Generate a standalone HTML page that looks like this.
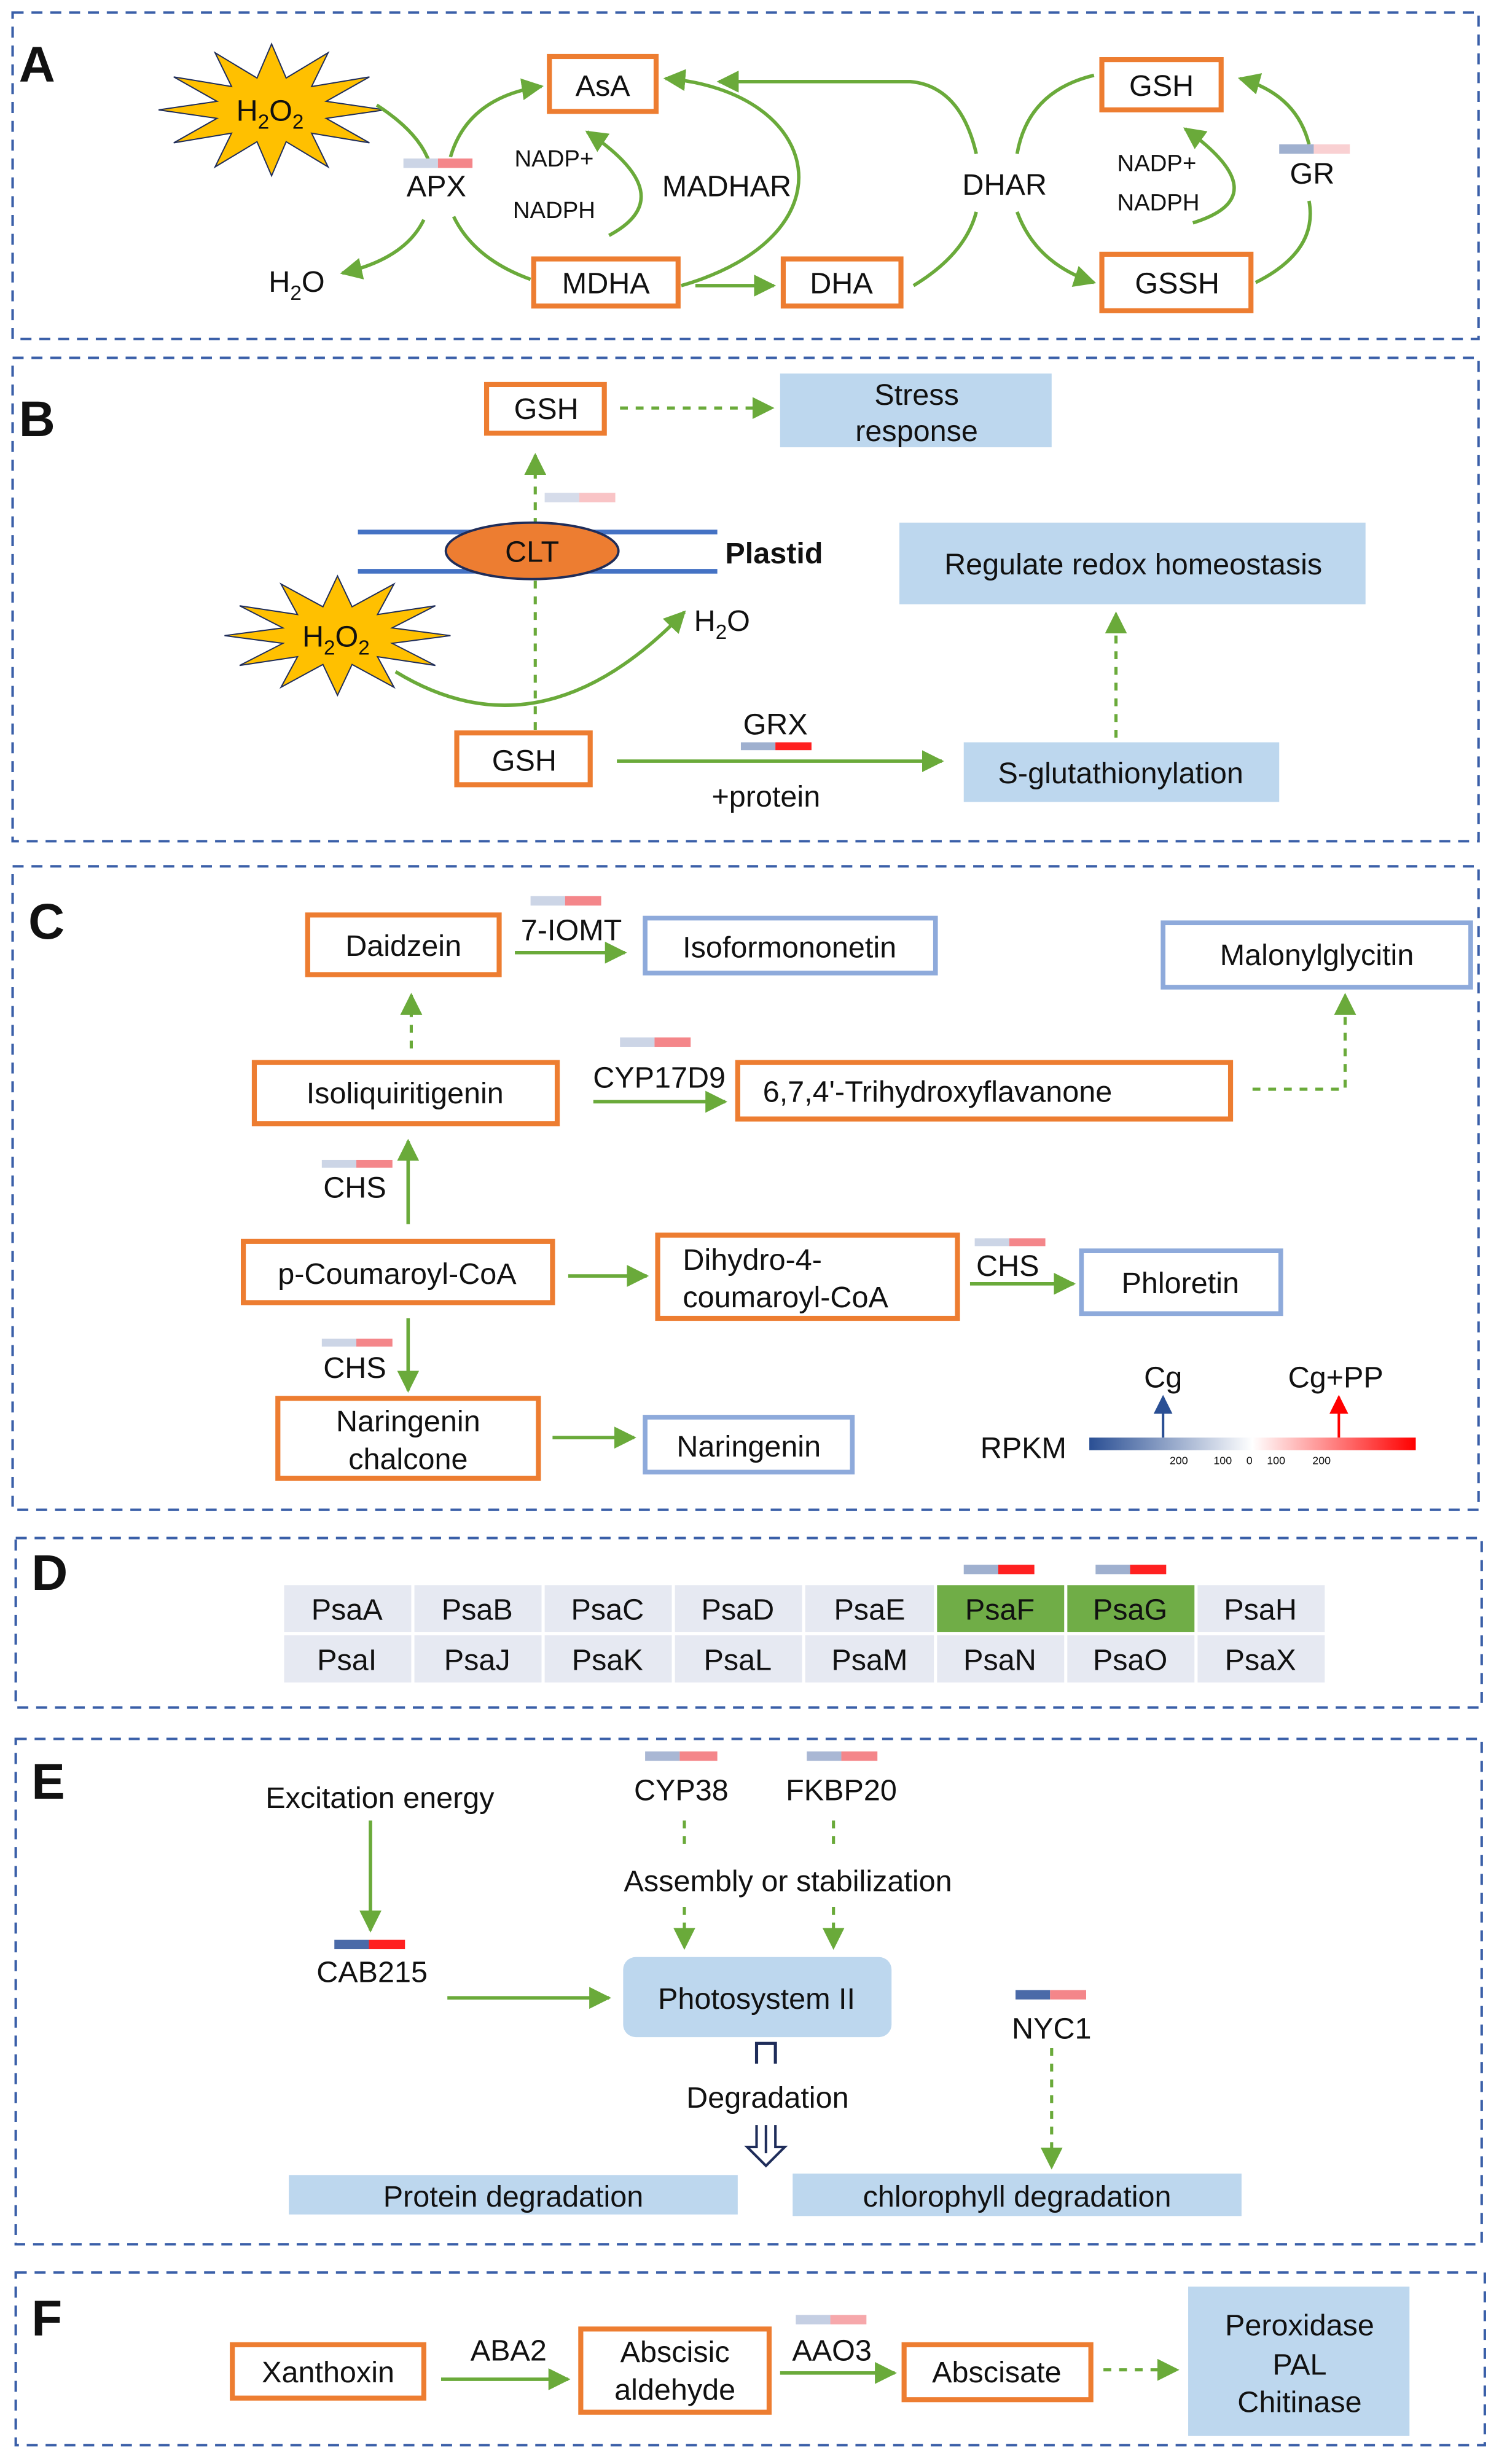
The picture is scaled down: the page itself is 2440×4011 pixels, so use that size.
<!DOCTYPE html>
<html><head><meta charset="utf-8"><style>
html,body{margin:0;padding:0;background:#fff;}
svg{display:block;}
text{font-family:"Liberation Sans",sans-serif;fill:#111;}
</style></head><body>
<svg width="2440" height="4011" viewBox="0 0 955 1570" xmlns="http://www.w3.org/2000/svg">
<defs>
<marker id="ag" markerUnits="userSpaceOnUse" markerWidth="14" markerHeight="14" viewBox="0 0 10 10" refX="9" refY="5" orient="auto"><path d="M0,0 L10,5 L0,10 Z" fill="#6aaa3a"/></marker>
<marker id="ab" markerUnits="userSpaceOnUse" markerWidth="12" markerHeight="14" viewBox="0 0 10 10" refX="9" refY="5" orient="auto"><path d="M0,0 L10,5 L0,10 Z" fill="#2a4f94"/></marker>
<marker id="ar" markerUnits="userSpaceOnUse" markerWidth="12" markerHeight="14" viewBox="0 0 10 10" refX="9" refY="5" orient="auto"><path d="M0,0 L10,5 L0,10 Z" fill="#ff0000"/></marker>
<polygon id="star" points="1,0 .483,.129 .866,.5 .354,.354 .5,.866 .129,.483 0,1 -.129,.483 -.5,.866 -.354,.354 -.866,.5 -.483,.129 -1,0 -.483,-.129 -.866,-.5 -.354,-.354 -.5,-.866 -.129,-.483 0,-1 .129,-.483 .5,-.866 .354,-.354 .866,-.5 .483,-.129" fill="#ffc000" stroke="#1f2d5a" stroke-width="2" vector-effect="non-scaling-stroke"/>
<linearGradient id="lg1"><stop offset="0" stop-color="#d0d8e8"/><stop offset=".5" stop-color="#d0d8e8"/><stop offset=".5" stop-color="#f4868a"/><stop offset="1" stop-color="#f4868a"/></linearGradient>
<linearGradient id="rp"><stop offset="0" stop-color="#2a4f94"/><stop offset=".5" stop-color="#ffffff"/><stop offset="1" stop-color="#ff0000"/></linearGradient>
</defs>
<style>
.pb{fill:none;stroke:#3a5fa8;stroke-width:1.6;stroke-dasharray:7,5;}
.ob{fill:#fff;stroke:#ed7d31;stroke-width:3.2;}
.bb{fill:#fff;stroke:#8eaadb;stroke-width:3;}
.lb{fill:#bdd7ee;}
.g{fill:none;stroke:#6aaa3a;stroke-width:2.2;}
.gd{fill:none;stroke:#6aaa3a;stroke-width:2;stroke-dasharray:5,5;}
.t{font-size:19px;text-anchor:middle;}
.s{font-size:15px;text-anchor:middle;}
.L{font-size:32px;font-weight:bold;}
.bl{fill:#ccd5e6}.pk{fill:#f4868a}.rd{fill:#ff2020}.dbl{fill:#4a6aa8}
</style>

<!-- panel borders -->
<rect class="pb" x="8" y="8" width="934" height="208"/>
<rect class="pb" x="8" y="228" width="934" height="308"/>
<rect class="pb" x="8" y="552" width="934" height="410"/>
<rect class="pb" x="10" y="980" width="934" height="108"/>
<rect class="pb" x="10" y="1108" width="934" height="322"/>
<rect class="pb" x="10" y="1448" width="936" height="110"/>

<text class="L" x="12" y="52">A</text>
<text class="L" x="12" y="278">B</text>
<text class="L" x="18" y="598">C</text>
<text class="L" x="20" y="1013">D</text>
<text class="L" x="20" y="1146">E</text>
<text class="L" x="20" y="1488">F</text>

<!-- Panel A -->
<use href="#star" transform="translate(173,70) scale(72,42)"/>
<text class="t" x="172" y="77">H<tspan font-size="13" dy="5">2</tspan><tspan dy="-5">O</tspan><tspan font-size="13" dy="5">2</tspan></text>
<path class="g" d="M240,67 Q268,85 274,105"/>
<path class="g" d="M270,140 Q258,165 218,174" marker-end="url(#ag)"/>
<path class="g" d="M287,100 Q298,62 345,55" marker-end="url(#ag)"/>
<path class="g" d="M289,138 Q302,165 338,178"/>
<path class="g" d="M388,150 Q435,125 374,84" marker-end="url(#ag)"/>
<path class="g" d="M434,182 C545,150 525,58 424,50" marker-end="url(#ag)"/>
<path class="g" d="M443,182 L493,182" marker-end="url(#ag)"/>
<path class="g" d="M582,182 Q615,162 622,135"/>
<path class="g" d="M622,98 Q612,55 580,52 L458,52" marker-end="url(#ag)"/>
<path class="g" d="M697,48 Q655,58 648,98"/>
<path class="g" d="M648,135 Q660,168 697,180" marker-end="url(#ag)"/>
<path class="g" d="M760,142 Q815,125 755,82" marker-end="url(#ag)"/>
<path class="g" d="M800,180 Q840,160 834,128"/>
<path class="g" d="M834,92 Q826,60 790,50" marker-end="url(#ag)"/>
<rect x="257" y="101" width="22" height="6" class="bl"/><rect x="279" y="101" width="22" height="6" class="pk"/>
<text class="t" x="278" y="125">APX</text>
<text class="t" x="189" y="186">H<tspan font-size="13" dy="5">2</tspan><tspan dy="-5">O</tspan></text>
<rect class="ob" x="350" y="36" width="68" height="35"/><text class="t" x="384" y="61">AsA</text>
<rect class="ob" x="340" y="165" width="92" height="30"/><text class="t" x="386" y="187">MDHA</text>
<rect class="ob" x="499" y="165" width="75" height="30"/><text class="t" x="536" y="187">DHA</text>
<rect class="ob" x="702" y="38" width="76" height="32"/><text class="t" x="740" y="61">GSH</text>
<rect class="ob" x="702" y="162" width="95" height="36"/><text class="t" x="750" y="187">GSSH</text>
<text class="s" x="353" y="106">NADP+</text>
<text class="s" x="353" y="139">NADPH</text>
<text class="t" x="463" y="125">MADHAR</text>
<text class="t" x="640" y="124">DHAR</text>
<text class="s" x="737" y="109">NADP+</text>
<text class="s" x="738" y="134">NADPH</text>
<rect x="815" y="92" width="22" height="6" fill="#9fb0cf"/><rect x="837" y="92" width="23" height="6" fill="#f9d0d2"/>
<text class="t" x="836" y="117">GR</text>

<!-- Panel B -->
<rect class="ob" x="310" y="245" width="75" height="31"/><text class="t" x="348" y="267">GSH</text>
<path class="gd" d="M395,260 L492,260" marker-end="url(#ag)"/>
<rect class="lb" x="497" y="238" width="173" height="47"/>
<text class="t" x="584" y="258">Stress</text><text class="t" x="584" y="281">response</text>
<line x1="228" y1="339" x2="457" y2="339" stroke="#4472c4" stroke-width="3"/>
<line x1="228" y1="364" x2="457" y2="364" stroke="#4472c4" stroke-width="3"/>
<path class="gd" d="M341,465 L341,290" marker-end="url(#ag)"/>
<ellipse cx="339" cy="351" rx="55" ry="18" fill="#ed7d31" stroke="#1f2d5a" stroke-width="1.5"/>
<text class="t" x="339" y="358">CLT</text>
<rect x="347" y="314" width="22" height="6" fill="#d6dcea"/><rect x="369" y="314" width="23" height="6" fill="#f9c4c6"/>
<text x="462" y="359" style="font-size:19px;font-weight:bold">Plastid</text>
<use href="#star" transform="translate(215,405) scale(72,38)"/>
<text class="t" x="214" y="412">H<tspan font-size="13" dy="5">2</tspan><tspan dy="-5">O</tspan><tspan font-size="13" dy="5">2</tspan></text>
<path class="g" d="M252,428 Q345,485 436,390" marker-end="url(#ag)"/>
<text class="t" x="460" y="402">H<tspan font-size="13" dy="5">2</tspan><tspan dy="-5">O</tspan></text>
<rect class="ob" x="291" y="467" width="85" height="33"/><text class="t" x="334" y="491">GSH</text>
<path class="g" d="M393,485 L600,485" marker-end="url(#ag)"/>
<text class="t" x="494" y="468">GRX</text>
<rect x="472" y="473" width="22" height="5" fill="#9fb0cf"/><rect x="494" y="473" width="23" height="5" class="rd"/>
<text class="t" x="488" y="514">+protein</text>
<rect class="lb" x="614" y="473" width="201" height="38"/><text class="t" x="714" y="499">S-glutathionylation</text>
<rect class="lb" x="573" y="333" width="297" height="52"/><text class="t" x="722" y="366">Regulate redox homeostasis</text>
<path class="gd" d="M711,470 L711,391" marker-end="url(#ag)"/>

<!-- Panel C -->
<rect class="ob" x="196" y="583" width="122" height="38"/><text class="t" x="257" y="609">Daidzein</text>
<rect x="338" y="571" width="22" height="6" class="bl"/><rect x="360" y="571" width="23" height="6" class="pk"/>
<text class="t" x="364" y="599">7-IOMT</text>
<path class="g" d="M328,607 L398,607" marker-end="url(#ag)"/>
<rect class="bb" x="411" y="585" width="185" height="35"/><text class="t" x="503" y="610">Isoformononetin</text>
<rect class="bb" x="741" y="588" width="196" height="41"/><text class="t" x="839" y="615">Malonylglycitin</text>
<path class="gd" d="M262,668 L262,634" marker-end="url(#ag)"/>
<rect class="ob" x="162" y="677" width="193" height="39"/><text class="t" x="258" y="703">Isoliquiritigenin</text>
<rect x="395" y="661" width="22" height="6" class="bl"/><rect x="417" y="661" width="23" height="6" class="pk"/>
<text class="t" x="420" y="693">CYP17D9</text>
<path class="g" d="M378,702 L462,702" marker-end="url(#ag)"/>
<rect class="ob" x="470" y="677" width="314" height="36"/><text x="486" y="702" style="font-size:19px">6,7,4'-Trihydroxyflavanone</text>
<path class="gd" d="M798,694 L857,694 L857,634" marker-end="url(#ag)"/>
<rect x="205" y="739" width="22" height="5" class="bl"/><rect x="227" y="739" width="23" height="5" class="pk"/>
<text class="t" x="226" y="763">CHS</text>
<path class="g" d="M260,780 L260,727" marker-end="url(#ag)"/>
<rect class="ob" x="155" y="791" width="197" height="39"/><text class="t" x="253" y="818">p-Coumaroyl-CoA</text>
<path class="g" d="M362,813 L412,813" marker-end="url(#ag)"/>
<rect class="ob" x="419" y="787" width="191" height="53"/>
<text x="435" y="809" style="font-size:19px">Dihydro-4-</text><text x="435" y="833" style="font-size:19px">coumaroyl-CoA</text>
<rect x="621" y="789" width="22" height="5" class="bl"/><rect x="643" y="789" width="23" height="5" class="pk"/>
<text class="t" x="642" y="813">CHS</text>
<path class="g" d="M618,818 L684,818" marker-end="url(#ag)"/>
<rect class="bb" x="689" y="797" width="127" height="40"/><text class="t" x="752" y="824">Phloretin</text>
<rect x="205" y="853" width="22" height="5" class="bl"/><rect x="227" y="853" width="23" height="5" class="pk"/>
<text class="t" x="226" y="878">CHS</text>
<path class="g" d="M260,840 L260,886" marker-end="url(#ag)"/>
<rect class="ob" x="177" y="891" width="166" height="51"/>
<text class="t" x="260" y="912">Naringenin</text><text class="t" x="260" y="936">chalcone</text>
<path class="g" d="M352,916 L404,916" marker-end="url(#ag)"/>
<rect class="bb" x="411" y="903" width="132" height="35"/><text class="t" x="477" y="928">Naringenin</text>
<text class="t" x="652" y="929">RPKM</text>
<rect x="694" y="916" width="208" height="8" fill="url(#rp)"/>
<g style="font-size:7px" text-anchor="middle"><text x="751" y="933">200</text><text x="779" y="933">100</text><text x="796" y="933">0</text><text x="813" y="933">100</text><text x="842" y="933">200</text></g>
<line x1="741" y1="916" x2="741" y2="890" stroke="#2a4f94" stroke-width="1.6" marker-end="url(#ab)"/>
<line x1="853" y1="916" x2="853" y2="890" stroke="#ff0000" stroke-width="1.6" marker-end="url(#ar)"/>
<text class="t" x="741" y="884">Cg</text>
<text class="t" x="851" y="884">Cg+PP</text>

<!-- Panel D -->
<g>
<rect x="180" y="1010" width="665" height="63" fill="#fff"/>
<g fill="#e6e9f2">
<rect x="181" y="1010" width="81" height="30"/><rect x="264" y="1010" width="81" height="30"/><rect x="347" y="1010" width="81" height="30"/><rect x="430" y="1010" width="81" height="30"/><rect x="513" y="1010" width="82" height="30"/><rect x="763" y="1010" width="81" height="30"/>
<rect x="181" y="1042" width="81" height="30"/><rect x="264" y="1042" width="81" height="30"/><rect x="347" y="1042" width="81" height="30"/><rect x="430" y="1042" width="81" height="30"/><rect x="513" y="1042" width="82" height="30"/><rect x="597" y="1042" width="81" height="30"/><rect x="680" y="1042" width="81" height="30"/><rect x="763" y="1042" width="81" height="30"/>
</g>
<rect x="597" y="1010" width="81" height="30" fill="#70ad47"/><rect x="680" y="1010" width="81" height="30" fill="#70ad47"/>
<g class="t">
<text class="t" x="221" y="1032">PsaA</text><text class="t" x="304" y="1032">PsaB</text><text class="t" x="387" y="1032">PsaC</text><text class="t" x="470" y="1032">PsaD</text><text class="t" x="554" y="1032">PsaE</text><text class="t" x="637" y="1032">PsaF</text><text class="t" x="720" y="1032">PsaG</text><text class="t" x="803" y="1032">PsaH</text>
<text class="t" x="221" y="1064">PsaI</text><text class="t" x="304" y="1064">PsaJ</text><text class="t" x="387" y="1064">PsaK</text><text class="t" x="470" y="1064">PsaL</text><text class="t" x="554" y="1064">PsaM</text><text class="t" x="637" y="1064">PsaN</text><text class="t" x="720" y="1064">PsaO</text><text class="t" x="803" y="1064">PsaX</text>
</g>
<rect x="614" y="997" width="22" height="6" fill="#9fb0cf"/><rect x="636" y="997" width="23" height="6" class="rd"/>
<rect x="698" y="997" width="22" height="6" fill="#9fb0cf"/><rect x="720" y="997" width="23" height="6" class="rd"/>
</g>

<!-- Panel E -->
<text class="t" x="242" y="1152">Excitation energy</text>
<path class="g" d="M236,1160 L236,1230" marker-end="url(#ag)"/>
<rect x="213" y="1236" width="22" height="6" class="dbl"/><rect x="235" y="1236" width="23" height="6" class="rd"/>
<text class="t" x="237" y="1263">CAB215</text>
<rect x="411" y="1116" width="22" height="6" fill="#a9b7d4"/><rect x="433" y="1116" width="24" height="6" class="pk"/>
<text class="t" x="434" y="1147">CYP38</text>
<rect x="514" y="1116" width="22" height="6" fill="#a9b7d4"/><rect x="536" y="1116" width="23" height="6" class="pk"/>
<text class="t" x="536" y="1147">FKBP20</text>
<path class="gd" d="M436,1160 L436,1180"/><path class="gd" d="M531,1160 L531,1180"/>
<text class="t" x="502" y="1205">Assembly or stabilization</text>
<path class="gd" d="M436,1215 L436,1241" marker-end="url(#ag)"/>
<path class="gd" d="M531,1215 L531,1241" marker-end="url(#ag)"/>
<rect class="lb" x="397" y="1247" width="171" height="51" rx="8"/><text class="t" x="482" y="1280">Photosystem II</text>
<path class="g" d="M285,1273 L388,1273" marker-end="url(#ag)"/>
<rect x="647" y="1268" width="22" height="6" class="dbl"/><rect x="669" y="1268" width="23" height="6" class="pk"/>
<text class="t" x="670" y="1299">NYC1</text>
<path class="gd" d="M670,1305 L670,1381" marker-end="url(#ag)"/>
<path d="M482,1315 L482,1302 L494,1302 L494,1315" fill="none" stroke="#1f2d5a" stroke-width="2"/>
<text class="t" x="489" y="1343">Degradation</text>
<path d="M482,1354 L482,1368 L476,1368 L488,1380 L500,1368 L494,1368 L494,1354" fill="none" stroke="#1f2d5a" stroke-width="1.6"/>
<line x1="488" y1="1354" x2="488" y2="1372" stroke="#1f2d5a" stroke-width="1.6"/>
<rect class="lb" x="184" y="1386" width="286" height="25"/><text class="t" x="327" y="1406">Protein degradation</text>
<rect class="lb" x="505" y="1385" width="286" height="27"/><text class="t" x="648" y="1406">chlorophyll degradation</text>

<!-- Panel F -->
<rect class="ob" x="148" y="1494" width="122" height="34"/><text class="t" x="209" y="1518">Xanthoxin</text>
<text class="t" x="324" y="1504">ABA2</text>
<path class="g" d="M281,1516 L362,1516" marker-end="url(#ag)"/>
<rect class="ob" x="370" y="1484" width="120" height="53"/>
<text class="t" x="430" y="1505">Abscisic</text><text class="t" x="430" y="1529">aldehyde</text>
<rect x="507" y="1475" width="22" height="6" fill="#c5cfe3"/><rect x="529" y="1475" width="23" height="6" fill="#f6a8ab"/>
<text class="t" x="530" y="1504">AAO3</text>
<path class="g" d="M497,1512 L570,1512" marker-end="url(#ag)"/>
<rect class="ob" x="576" y="1494" width="119" height="35"/><text class="t" x="635" y="1518">Abscisate</text>
<path class="gd" d="M703,1510 L750,1510" marker-end="url(#ag)"/>
<rect class="lb" x="757" y="1457" width="141" height="95"/>
<text class="t" x="828" y="1488">Peroxidase</text><text class="t" x="828" y="1513">PAL</text><text class="t" x="828" y="1537">Chitinase</text>
</svg>
</body></html>
